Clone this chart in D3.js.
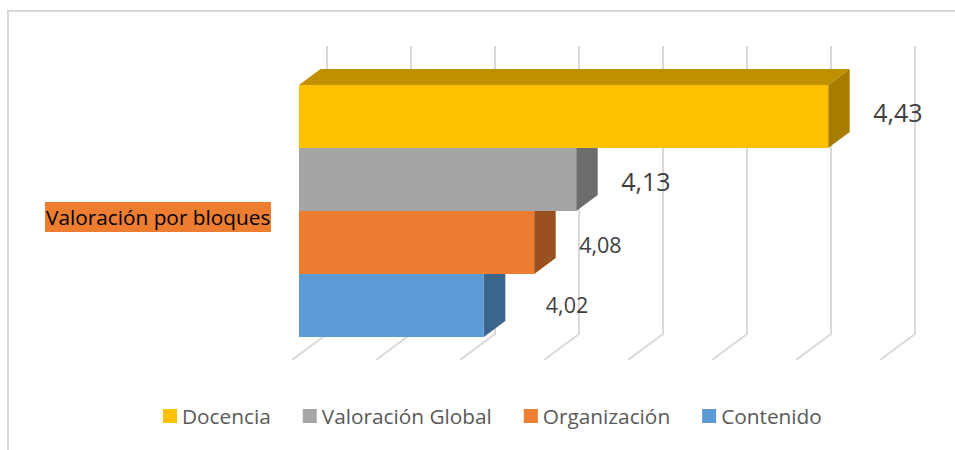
<!DOCTYPE html>
<html>
<head>
<meta charset="utf-8">
<script src="https://cdn.jsdelivr.net/npm/d3@7"></script>
<style>
    html, body { margin: 0; padding: 0; background: #fff; }
    svg { display: block; }
    text { font-family: "Open Sans", "Noto Sans", sans-serif; }
</style>
</head>
<body>
<div id="chart"></div>
<script>
const categories = ['Docencia', 'Valoración Global', 'Organización', 'Contenido'];
const values = [4.43, 4.13, 4.08, 4.02];
const colors = ['#ffc000', '#a5a5a5', '#ed7d31', '#5b9bd5'];
const gridTicks = [3.8, 3.9, 4.0, 4.1, 4.2, 4.3, 4.4, 4.5];
const axisLabel = 'Valoración por bloques';

const width = 955, height = 450;

const svg = d3.select('#chart')
    .append('svg')
    .attr('width', width)
    .attr('height', height);

// Frame, only top and left are visible in the picture
svg.append('path')
    .attr('d', 'M8,450V11H955')
    .attr('fill', 'none')
    .attr('stroke', '#d9d9d9')
    .attr('stroke-width', 2);

const xScale = d3.scaleLinear().domain([3.8, 4.5]).range([299, 887]);
const yScale = d3.scaleBand().domain(categories).range([85, 337]);

// Fake 3D offsets
const barDepth = { x: 21.5, y: 16 };
const gridBack = { x: 28, y: 46, bottom: 334 };
const gridFront = { x: -7, y: 360 };

// Gridlines: vertical on the back wall, diagonal across the floor
svg.append('g')
    .selectAll('path')
    .data(gridTicks)
    .join('path')
    .attr('d', d => {
        const x = xScale(d);
        return `M${x + gridBack.x},${gridBack.y}V${gridBack.bottom}L${x + gridFront.x},${gridFront.y}`;
    })
    .attr('fill', 'none')
    .attr('stroke', '#d9d9d9')
    .attr('stroke-width', 2);

// Bars, drawn from the bottom up so each front hides the top of the one below
const bars = categories.map((c, i) => ({ name: c, value: values[i], color: colors[i] }));

const barGroups = svg.append('g')
    .selectAll('g')
    .data(bars.slice().reverse())
    .join('g');

// top face
barGroups.append('path')
    .attr('d', d => {
        const x0 = xScale(3.8), x1 = xScale(d.value), y = yScale(d.name);
        return `M${x0},${y}L${x0 + barDepth.x},${y - barDepth.y}H${x1 + barDepth.x}L${x1},${y}Z`;
    })
    .attr('fill', d => d3.color(d.color).darker(0.8));

// side face
barGroups.append('path')
    .attr('d', d => {
        const x1 = xScale(d.value), y = yScale(d.name), h = yScale.bandwidth();
        return `M${x1},${y}L${x1 + barDepth.x},${y - barDepth.y}V${y + h - barDepth.y}L${x1},${y + h}Z`;
    })
    .attr('fill', d => d3.color(d.color).darker(1.2));

// front face
barGroups.append('rect')
    .attr('x', xScale(3.8))
    .attr('y', d => yScale(d.name))
    .attr('width', d => xScale(d.value) - xScale(3.8))
    .attr('height', yScale.bandwidth())
    .attr('fill', d => d.color);

// Data labels
const labelDx = [45, 45, 45, 62];
const labelDy = [-5, 1, 2, -1];
const labelSize = [25, 25, 21.5, 21.5];

svg.append('g')
    .selectAll('text')
    .data(bars)
    .join('text')
    .attr('x', (d, i) => xScale(d.value) + labelDx[i])
    .attr('y', (d, i) => yScale(d.name) + yScale.bandwidth() / 2 + labelDy[i])
    .attr('dominant-baseline', 'central')
    .attr('font-size', (d, i) => labelSize[i])
    .attr('fill', '#404040')
    .text(d => d.value.toFixed(2).replace('.', ','));

// Category label on its orange box
svg.append('rect')
    .attr('x', 45)
    .attr('y', 202)
    .attr('width', 226)
    .attr('height', 30)
    .attr('fill', '#ed7d31');

svg.append('text')
    .attr('x', 46)
    .attr('y', 217)
    .attr('dominant-baseline', 'central')
    .attr('font-size', 20.8)
    .attr('fill', '#000')
    .text(axisLabel);

// Legend
let legendX = 163;
bars.forEach(d => {
    svg.append('rect')
        .attr('x', legendX)
        .attr('y', 409)
        .attr('width', 14)
        .attr('height', 14)
        .attr('fill', d.color);

    const label = svg.append('text')
        .attr('x', legendX + 19)
        .attr('y', 416)
        .attr('dominant-baseline', 'central')
        .attr('font-size', 20.8)
        .attr('fill', '#595959')
        .text(d.name);

    legendX += 19 + label.node().getComputedTextLength() + 32;
});
</script>
</body>
</html>
